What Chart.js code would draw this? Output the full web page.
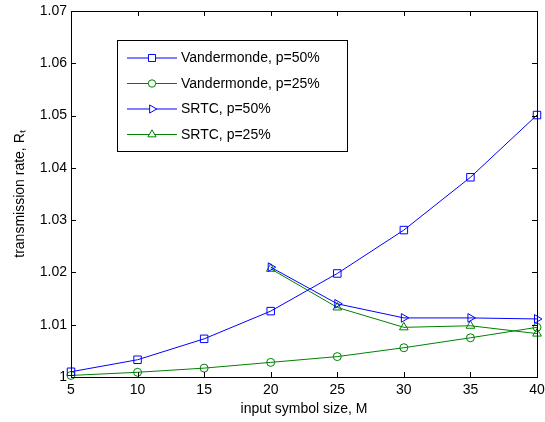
<!DOCTYPE html>
<html>
<head>
<meta charset="utf-8">
<script src="https://cdn.jsdelivr.net/npm/chart.js@4/dist/chart.umd.min.js"></script>
<style>
  html, body { margin: 0; padding: 0; background: #fff; }
  #wrap { width: 545px; height: 422px; }
</style>
</head>
<body>
<div id="wrap"><canvas id="rateChart" width="545" height="422"></canvas></div>
<script>
// data
var symbolSizes = [5, 10, 15, 20, 25, 30, 35, 40];
var vand50 = [1.0010, 1.0033, 1.0073, 1.0126, 1.0198, 1.0281, 1.0382, 1.0501];
var vand25 = [1.0003, 1.0009, 1.0017, 1.0028, 1.0039, 1.0056, 1.0075, 1.0095];
var srtcSizes = [20, 25, 30, 35, 40];
var srtc50 = [1.0210, 1.0140, 1.0113, 1.0113, 1.0111];
var srtc25 = [1.0207, 1.0133, 1.0095, 1.0098, 1.0083];
var seriesNames = ['Vandermonde, p=50%', 'Vandermonde, p=25%', 'SRTC, p=50%', 'SRTC, p=25%'];
var xTicks = [5, 10, 15, 20, 25, 30, 35, 40];
var yTicks = [1, 1.01, 1.02, 1.03, 1.04, 1.05, 1.06, 1.07];

var BLUE = '#0000ff';
var GREEN = '#008000';
var FONT = '"Liberation Sans", Arial, Helvetica, sans-serif';

function pairs(xs, ys) {
  return xs.map(function (x, i) { return { x: x, y: ys[i] }; });
}

function series(label, xs, ys, color, style, radius, rotation) {
  return {
    label: label,
    data: pairs(xs, ys),
    borderColor: color,
    backgroundColor: 'rgba(0,0,0,0)',
    borderWidth: 1,
    pointStyle: style,
    pointRadius: radius,
    pointRotation: rotation || 0,
    pointBorderColor: color,
    pointBackgroundColor: 'rgba(0,0,0,0)',
    pointBorderWidth: 1,
    fill: false,
    tension: 0,
    clip: false
  };
}

// matlab-like box with inward ticks on all four sides
var boxPlugin = {
  id: 'boxTicks',
  afterDraw: function (chart) {
    var ctx = chart.ctx, a = chart.chartArea;
    var xs = chart.scales.x, ys = chart.scales.y;
    var len = 5;
    ctx.save();
    ctx.strokeStyle = '#000';
    ctx.lineWidth = 1;
    ctx.beginPath();
    xTicks.forEach(function (v) {
      var px = Math.round(xs.getPixelForValue(v)) + 0.5;
      ctx.moveTo(px, a.bottom); ctx.lineTo(px, a.bottom - len);
      ctx.moveTo(px, a.top); ctx.lineTo(px, a.top + len);
    });
    yTicks.forEach(function (v) {
      var py = Math.round(ys.getPixelForValue(v)) + 0.5;
      ctx.moveTo(a.left, py); ctx.lineTo(a.left + len, py);
      ctx.moveTo(a.right, py); ctx.lineTo(a.right - len, py);
    });
    ctx.stroke();
    ctx.strokeRect(Math.round(a.left) + 0.5, Math.round(a.top) + 0.5,
      Math.round(a.right - a.left), Math.round(a.bottom - a.top));
    ctx.restore();
  }
};

// legend box drawn like the matlab one: line sample with marker in the middle
var legendPlugin = {
  id: 'boxLegend',
  afterDraw: function (chart) {
    var ctx = chart.ctx;
    var bx = 117.5, by = 40.5, bw = 230, bh = 111;
    ctx.save();
    ctx.fillStyle = '#fff';
    ctx.fillRect(bx, by, bw, bh);
    ctx.strokeStyle = '#000';
    ctx.lineWidth = 1;
    ctx.strokeRect(bx, by, bw, bh);
    chart.data.datasets.forEach(function (ds, i) {
      var y = 58 + i * 25.5;
      ctx.strokeStyle = ds.borderColor;
      ctx.lineWidth = 1;
      ctx.beginPath();
      ctx.moveTo(127, y); ctx.lineTo(177, y);
      ctx.stroke();
      // white under the marker, then hollow marker
      ctx.fillStyle = '#fff';
      Chart.helpers.drawPoint(ctx, {
        pointStyle: ds.pointStyle,
        radius: ds.pointStyle === 'circle' ? 3.7 : ds.pointRadius - 0.3,
        rotation: ds.pointRotation,
        borderWidth: 1
      }, 152, y);
      ctx.fillStyle = '#000';
      ctx.font = '14px ' + FONT;
      ctx.textBaseline = 'middle';
      ctx.textAlign = 'left';
      ctx.fillText(ds.label, 181, y + 0.5);
    });
    ctx.restore();
  }
};

var ctx = document.getElementById('rateChart').getContext('2d');
var chart = new Chart(ctx, {
  type: 'line',
  data: {
    datasets: [
      series(seriesNames[0], symbolSizes, vand50, BLUE, 'rect', 5.3),
      series(seriesNames[1], symbolSizes, vand25, GREEN, 'circle', 4),
      series(seriesNames[2], srtcSizes, srtc50, BLUE, 'triangle', 5, 90),
      series(seriesNames[3], srtcSizes, srtc25, GREEN, 'triangle', 5, 0)
    ]
  },
  options: {
    responsive: false,
    animation: false,
    devicePixelRatio: 1,
    layout: { padding: { top: 11, right: 8, left: 0, bottom: 0 } },
    scales: {
      x: {
        type: 'linear',
        min: 5,
        max: 40,
        afterBuildTicks: function (s) { s.ticks = xTicks.map(function (v) { return { value: v }; }); },
        afterFit: function (s) { s.height = 45; s.paddingLeft = 0; s.paddingRight = 0; },
        grid: { display: false, drawTicks: false },
        border: { display: false },
        ticks: {
          color: '#000',
          padding: 5,
          maxRotation: 0,
          font: { family: FONT, size: 14 },
          callback: function (v) { return String(v); }
        },
        title: {
          display: true,
          text: 'input symbol size, M',
          color: '#000',
          font: { family: FONT, size: 14 },
          padding: { top: 0, bottom: 4 }
        }
      },
      y: {
        type: 'linear',
        min: 1,
        max: 1.07,
        afterBuildTicks: function (s) { s.ticks = yTicks.map(function (v) { return { value: v }; }); },
        afterFit: function (s) { s.width = 71; s.paddingTop = 0; s.paddingBottom = 0; },
        grid: { display: false, drawTicks: false },
        border: { display: false },
        ticks: {
          color: '#000',
          padding: 4,
          font: { family: FONT, size: 14 },
          callback: function (v) { return String(Math.round(v * 100) / 100); }
        },
        title: {
          display: true,
          text: 'transmission rate, R\u209C',
          color: '#000',
          font: { family: FONT, size: 14 },
          padding: { top: 12, bottom: 0 }
        }
      }
    },
    plugins: {
      legend: { display: false },
      tooltip: { enabled: false }
    }
  },
  plugins: [boxPlugin, legendPlugin]
});
</script>
</body>
</html>
